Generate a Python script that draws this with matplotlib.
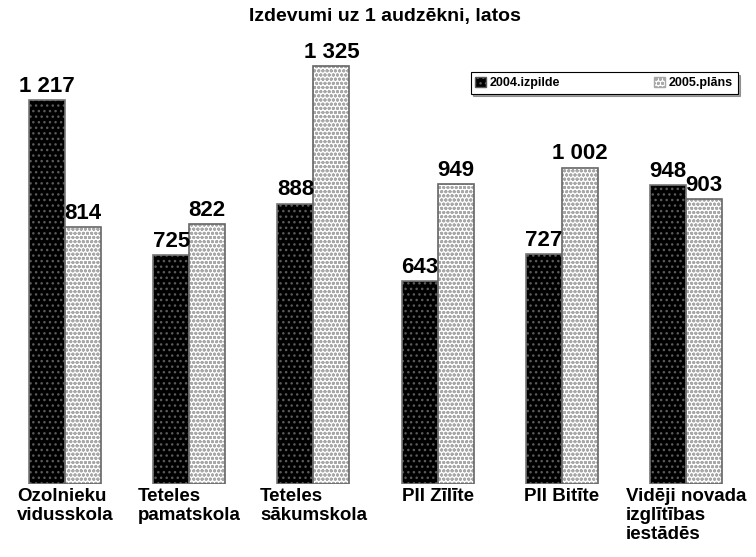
import matplotlib.pyplot as plt
import numpy as np
from matplotlib.patches import Patch

plt.rcParams['font.family'] = ['Liberation Sans', 'DejaVu Sans']
plt.rcParams['hatch.linewidth'] = 1.0

# dati
categories = ['Ozolnieku\nvidusskola', 'Teteles\npamatskola', 'Teteles\nsākumskola',
              'PII Zīlīte', 'PII Bitīte', 'Vidēji novada\nizglītības\niestādēs']
izpilde_2004 = [1217, 725, 888, 643, 727, 948]
plans_2005 = [814, 822, 1325, 949, 1002, 903]
series_names = ['2004.izpilde', '2005.plāns']

def fmt(v):
    return f'{v:,}'.replace(',', ' ')

fig = plt.figure(figsize=(7.56, 5.57), dpi=100)
ax = fig.add_axes([3 / 756, 73 / 557, 745 / 756, 442 / 557])

x = np.arange(len(categories))
w = 0.29

# 2004 - melns ar pelēkiem punktiem
ax.bar(x - w / 2, izpilde_2004, w, color='black', edgecolor='#5a5a5a', hatch='...', linewidth=0)
ax.bar(x - w / 2, izpilde_2004, w, fill=False, edgecolor='#777777', linewidth=1.2)
# 2005 - gaišs punktots
ax.bar(x + w / 2, plans_2005, w, color='white', edgecolor='#a8a8a8', hatch='oooo', linewidth=0)
ax.bar(x + w / 2, plans_2005, w, fill=False, edgecolor='#666666', linewidth=1.2)

for i in range(len(categories)):
    ax.text(x[i] - w / 2, izpilde_2004[i] + 10, fmt(izpilde_2004[i]), ha='center', va='bottom',
            fontsize=16, fontweight='bold')
    ax.text(x[i] + w / 2, plans_2005[i] + 10, fmt(plans_2005[i]), ha='center', va='bottom',
            fontsize=16, fontweight='bold')

ax.set_xlim(-0.5, len(categories) - 0.5)
ax.set_ylim(0, 1400)
ax.set_yticks([])
ax.set_xticks(x)
ax.set_xticklabels(categories, fontsize=13.5, fontweight='bold', multialignment='left',
                   linespacing=1.15)
ax.tick_params(axis='x', length=0, pad=3)
for s in ax.spines.values():
    s.set_visible(False)

fig.text(385 / 756, 1 - 17 / 557, 'Izdevumi uz 1 audzēkni, latos', ha='center', va='center',
         fontsize=14, fontweight='bold')

handles = [Patch(facecolor='black', edgecolor='#5a5a5a', hatch='...'),
           Patch(facecolor='white', edgecolor='#a8a8a8', hatch='oooo')]
leg = fig.legend(handles, series_names, loc='center', bbox_to_anchor=(604 / 756, 1 - 83 / 557),
                 ncol=2, fancybox=False, shadow=True, edgecolor='black', framealpha=1,
                 prop={'weight': 'bold', 'size': 9}, handlelength=0.9, handleheight=0.9,
                 handletextpad=0.3, columnspacing=7.5, borderpad=0.35)
leg.get_frame().set_linewidth(0.8)

fig.savefig('out.png', dpi=100)
